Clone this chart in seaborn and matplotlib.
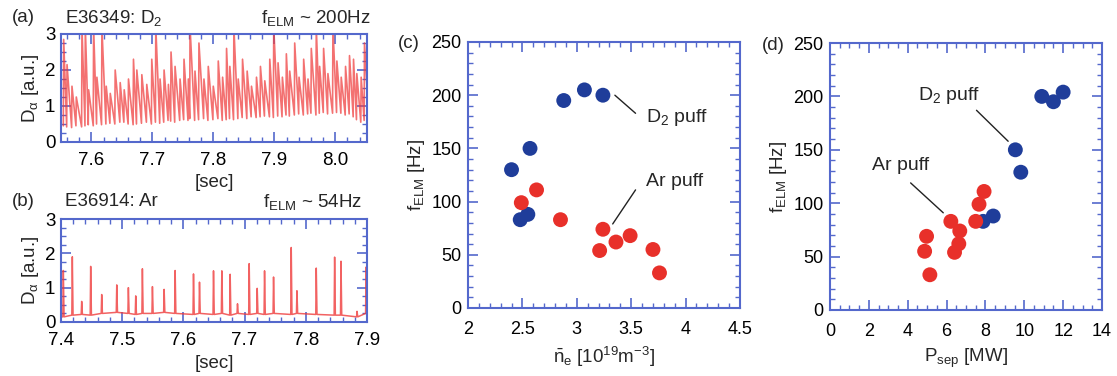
import numpy as np
import pandas as pd
import matplotlib
matplotlib.use('Agg')
import matplotlib.pyplot as plt
import seaborn as sns
from matplotlib.ticker import MultipleLocator

sns.set_theme(style='ticks')
plt.rcParams['font.family'] = ['Liberation Sans', 'DejaVu Sans']
plt.rcParams['mathtext.fontset'] = 'custom'
plt.rcParams['mathtext.rm'] = 'Liberation Sans'
plt.rcParams['mathtext.it'] = 'Liberation Sans'
plt.rcParams['mathtext.bf'] = 'Liberation Sans:bold'

# (a) E36349, D2 puff: ELM spike times [s], peak and pre-spike minimum [a.u.]
a_t = [7.5538, 7.5593, 7.5674, 7.5745, 7.5838, 7.5893, 7.5947, 7.6029, 7.6083, 7.6165,
       7.6236, 7.6302, 7.6383, 7.6465, 7.6531, 7.6601, 7.6683, 7.6738, 7.6820, 7.6901,
       7.6983, 7.7049, 7.7119, 7.7185, 7.7256, 7.7299, 7.7365, 7.7447, 7.7512, 7.7583,
       7.7611, 7.7692, 7.7757, 7.7839, 7.7910, 7.7992, 7.8074, 7.8145, 7.8210, 7.8264,
       7.8330, 7.8401, 7.8472, 7.8548, 7.8619, 7.8701, 7.8766, 7.8837, 7.8919, 7.8984,
       7.9055, 7.9126, 7.9191, 7.9246, 7.9328, 7.9399, 7.9475, 7.9546, 7.9600, 7.9682,
       7.9737, 7.9802, 7.9873, 7.9955, 8.0020, 8.0091, 8.0162, 8.0227, 8.0293, 8.0347,
       8.0418, 8.0473]
a_peak = [2.85, 2.15, 1.55, 1.25, 3.2, 3.2, 1.45, 3.2, 1.8, 3.2,
          1.55, 1.35, 2.0, 1.65, 1.45, 1.75, 2.3, 2.0, 1.87, 1.6,
          2.3, 3.2, 1.75, 2.0, 1.6, 2.5, 2.1, 1.75, 2.3, 1.75,
          3.2, 1.97, 2.75, 1.75, 2.1, 1.55, 2.25, 1.8, 2.6, 2.1,
          3.2, 1.75, 2.3, 1.97, 1.55, 1.8, 2.1, 1.7, 2.3, 3.2,
          2.2, 1.8, 2.45, 1.97, 2.75, 1.8, 2.3, 1.75, 2.6, 3.2,
          2.1, 2.6, 1.9, 3.2, 2.25, 1.8, 2.1, 2.4, 2.3, 1.9,
          1.8, 2.75]
a_min = [0.45, 0.42, 0.40, 0.45, 0.42, 0.45, 0.48, 0.45, 0.50, 0.48,
         0.50, 0.52, 0.50, 0.55, 0.55, 0.50, 0.48, 0.50, 0.52, 0.55,
         0.50, 0.55, 0.52, 0.55, 0.60, 0.58, 0.55, 0.60, 0.62, 0.60,
         0.65, 0.60, 0.62, 0.65, 0.60, 0.62, 0.65, 0.60, 0.62, 0.65,
         0.62, 0.65, 0.68, 0.65, 0.70, 0.68, 0.70, 0.72, 0.70, 0.68,
         0.72, 0.70, 0.75, 0.72, 0.75, 0.78, 0.75, 0.78, 0.80, 0.75,
         0.80, 0.82, 0.78, 0.80, 0.82, 0.80, 0.75, 0.78, 0.70, 0.62,
         0.55, 0.60]

# (b) E36914, Ar puff
b_t = [7.4038, 7.4185, 7.4338, 7.4485, 7.4665, 7.4911, 7.5101, 7.5221, 7.5330, 7.5494,
       7.5685, 7.5865, 7.6165, 7.6263, 7.6492, 7.6628, 7.6764, 7.6884, 7.7075, 7.7206,
       7.7326, 7.7473, 7.7762, 7.7855, 7.8171, 7.8471, 7.8575, 7.8837, 7.8985]
b_peak = [1.5, 1.9, 0.6, 1.62, 0.8, 1.08, 1.0, 0.76, 1.55, 1.03,
          0.95, 1.5, 1.4, 1.16, 1.49, 1.49, 1.39, 0.53, 1.7, 0.98,
          1.49, 1.31, 2.17, 0.91, 1.57, 1.89, 1.77, 0.31, 1.6]
b_base = [0.15, 0.20, 0.22, 0.20, 0.25, 0.28, 0.25, 0.22, 0.25, 0.25,
          0.28, 0.25, 0.22, 0.25, 0.22, 0.25, 0.20, 0.25, 0.22, 0.25,
          0.22, 0.25, 0.22, 0.25, 0.22, 0.20, 0.20, 0.15, 0.25]

# (c), (d) ELM frequency
d2_ne = [2.40, 2.48, 2.55, 2.57, 2.88, 3.07, 3.24]
d2_f_c = [130, 83, 88, 150, 195, 205, 200]
ar_ne = [2.49, 2.63, 2.85, 3.21, 3.24, 3.36, 3.49, 3.70, 3.76]
ar_f_c = [99, 111, 83, 54, 74, 62, 68, 55, 33]

d2_psep = [9.54, 9.82, 10.9, 11.5, 12.0, 7.88, 8.40]
d2_f_d = [150, 129, 200, 195, 204, 83, 88]
ar_psep = [4.97, 4.87, 5.14, 6.22, 6.41, 6.68, 6.63, 7.50, 7.67, 7.93]
ar_f_d = [69, 55, 33, 83, 54, 74, 62, 83, 99, 111]

SPINE = '#5468cc'
BLUE = '#1f3d9a'
RED = '#e8302a'
TRACE = '#ef3b3b'


def spiky_a(t, peak, low):
    xs, ys = [], []
    for ti, pi, mi in zip(t, peak, low):
        xs += [ti, ti + 0.0006]
        ys += [mi, pi]
    xs.append(8.055)
    ys.append(0.6)
    return pd.DataFrame({'t': xs, 'D': ys})


def spiky_b(t, peak, base):
    xs, ys = [7.398], [0.15]
    for ti, pi, bi in zip(t, peak, base):
        xs += [ti - 0.0008, ti, ti + 0.0012]
        ys += [bi, pi, bi]
    return pd.DataFrame({'t': xs, 'D': ys})


def style(ax, xmaj, xmin, ymaj, ymin, fs, xpad, ypad):
    for s in ax.spines.values():
        s.set_visible(True)
        s.set_color(SPINE)
        s.set_linewidth(1.5)
    ax.xaxis.set_major_locator(MultipleLocator(xmaj))
    ax.xaxis.set_minor_locator(MultipleLocator(xmin))
    ax.yaxis.set_major_locator(MultipleLocator(ymaj))
    ax.yaxis.set_minor_locator(MultipleLocator(ymin))
    ax.tick_params(which='both', direction='in', top=True, right=True,
                   color=SPINE, labelcolor='black', labelsize=fs)
    ax.tick_params(which='major', length=7, width=1.2)
    ax.tick_params(which='minor', length=3.5, width=1)
    ax.tick_params(axis='x', pad=xpad)
    ax.tick_params(axis='y', pad=ypad)
    ax.grid(False)


W, H = 1117, 376
fig = plt.figure(figsize=(W / 100, H / 100), dpi=100)


def box(l, t, r, b):
    return [l / W, 1 - b / H, (r - l) / W, (b - t) / H]


ax_a = fig.add_axes(box(61, 34, 367, 142))
ax_b = fig.add_axes(box(61, 219, 367, 322))
ax_c = fig.add_axes(box(468, 42, 740, 308))
ax_d = fig.add_axes(box(830, 43, 1102, 310))

fs_ab = 13.5
sns.lineplot(data=spiky_a(a_t, a_peak, a_min), x='t', y='D', ax=ax_a,
             estimator=None, sort=False, color=TRACE, lw=1.2, alpha=0.72)
ax_a.set_xlim(7.55, 8.052)
ax_a.set_ylim(0, 3)
style(ax_a, 0.1, 0.02, 1, 0.25, fs_ab, 7.5, 4)
ax_a.set_xlabel('[sec]', fontsize=fs_ab, labelpad=3)
ax_a.set_ylabel(r'D$_\alpha$ [a.u.]', fontsize=fs_ab, labelpad=3)

sns.lineplot(data=spiky_b(b_t, b_peak, b_base), x='t', y='D', ax=ax_b,
             estimator=None, sort=False, color=TRACE, lw=1.1, alpha=0.8)
ax_b.set_xlim(7.4, 7.9)
ax_b.set_ylim(0, 3)
style(ax_b, 0.1, 0.02, 1, 0.25, fs_ab, 7.5, 4)
ax_b.set_xlabel('[sec]', fontsize=fs_ab, labelpad=4)
ax_b.set_ylabel(r'D$_\alpha$ [a.u.]', fontsize=fs_ab, labelpad=3)

df_c = pd.DataFrame({'ne': d2_ne + ar_ne, 'f': d2_f_c + ar_f_c,
                     'gas': ['D2'] * len(d2_ne) + ['Ar'] * len(ar_ne)})
df_d = pd.DataFrame({'P': d2_psep + ar_psep, 'f': d2_f_d + ar_f_d,
                     'gas': ['D2'] * len(d2_psep) + ['Ar'] * len(ar_psep)})
pal = {'D2': BLUE, 'Ar': RED}

fs_cd = 13
sns.scatterplot(data=df_c, x='ne', y='f', hue='gas', palette=pal, s=115,
                edgecolor='none', legend=False, ax=ax_c, zorder=3)
ax_c.set_xlim(2, 4.5)
ax_c.set_ylim(0, 250)
style(ax_c, 0.5, 0.1, 50, 10, fs_cd, 9, 4.5)
ax_c.set_xticks([2, 2.5, 3, 3.5, 4, 4.5])
ax_c.set_xticklabels(['2', '2.5', '3', '3.5', '4', '4.5'])
ax_c.set_xlabel(r'$\bar{\mathrm{n}}_\mathrm{e}$ [10$^{19}$m$^{-3}$]', fontsize=13.5, labelpad=5)
ax_c.set_ylabel(r'f$_\mathrm{ELM}$ [Hz]', fontsize=13.5, labelpad=3)

sns.scatterplot(data=df_d, x='P', y='f', hue='gas', palette=pal, s=115,
                edgecolor='none', legend=False, ax=ax_d, zorder=3)
ax_d.set_xlim(0, 14)
ax_d.set_ylim(0, 250)
style(ax_d, 2, 0.5, 50, 10, fs_cd, 9, 4.5)
ax_d.set_xlabel(r'P$_\mathrm{sep}$ [MW]', fontsize=13.5, labelpad=5)
ax_d.set_ylabel(r'f$_\mathrm{ELM}$ [Hz]', fontsize=13.5, labelpad=3)

# annotations: (text position, leader line start, leader line end)
notes_c = [(r'D$_2$ puff', (3.64, 179), (3.35, 200), (3.54, 183)),
           ('Ar puff', (3.64, 119), (3.54, 111), (3.33, 79))]
notes_d = [(r'D$_2$ puff', (4.54, 201), (7.54, 187), (9.17, 158)),
           ('Ar puff', (2.14, 135), (4.15, 119), (5.83, 91))]
for ax, notes in [(ax_c, notes_c), (ax_d, notes_d)]:
    for label, pos, p0, p1 in notes:
        ax.text(pos[0], pos[1], label, fontsize=14, ha='left', va='center')
        ax.annotate('', xy=p1, xytext=p0,
                    arrowprops=dict(arrowstyle='-', color='#222222', lw=1,
                                    shrinkA=0, shrinkB=0))

fs = 13.5
fig.text(12 / W, 1 - 18 / H, '(a)', fontsize=fs, ha='left', va='center')
fig.text(65 / W, 1 - 18 / H, r'E36349: D$_2$', fontsize=fs, ha='left', va='center')
fig.text(370 / W, 1 - 18 / H, r'f$_\mathrm{ELM}$ ~ 200Hz', fontsize=fs, ha='right', va='center')
fig.text(12 / W, 1 - 202 / H, '(b)', fontsize=fs, ha='left', va='center')
fig.text(65 / W, 1 - 202 / H, 'E36914: Ar', fontsize=fs, ha='left', va='center')
fig.text(362 / W, 1 - 202 / H, r'f$_\mathrm{ELM}$ ~ 54Hz', fontsize=fs, ha='right', va='center')
fig.text(398 / W, 1 - 44 / H, '(c)', fontsize=fs, ha='left', va='center')
fig.text(762 / W, 1 - 45 / H, '(d)', fontsize=fs, ha='left', va='center')

fig.savefig('out.png', dpi=100)
